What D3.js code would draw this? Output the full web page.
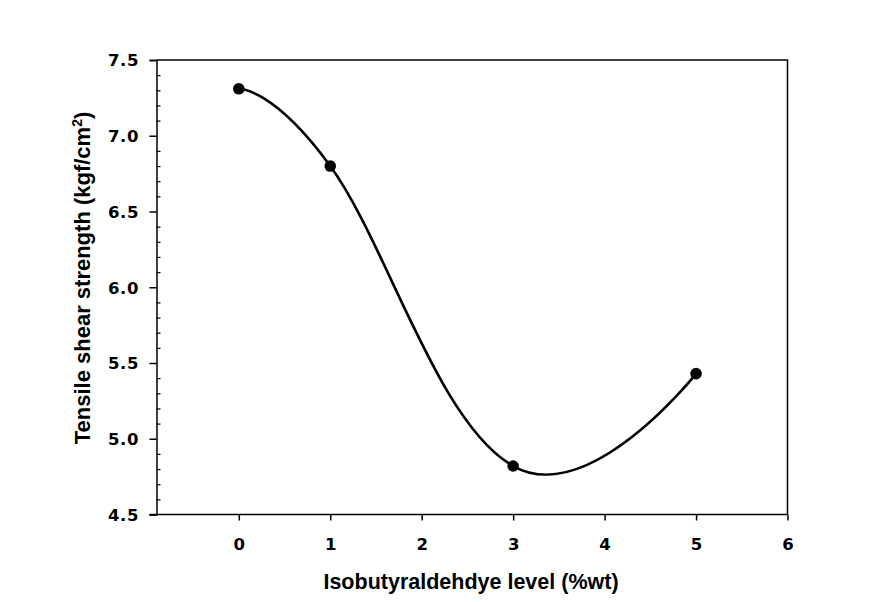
<!DOCTYPE html>
<html>
<head>
<meta charset="utf-8">
<script src="https://cdn.jsdelivr.net/npm/d3@7"></script>
<style>
  body { margin: 0; background: #fff; }
  svg text { font-family: "Liberation Sans", Arial, sans-serif; font-weight: bold; fill: #000; }
  svg .tick text { font-family: "DejaVu Sans", Verdana, sans-serif; }
</style>
</head>
<body>
<div id="chart"></div>
<script>
// data
var levels = [0, 1, 3, 5];
var strength = [7.31, 6.80, 4.82, 5.43];
var xTicks = [0, 1, 2, 3, 4, 5, 6];
var yTicks = [4.5, 5.0, 5.5, 6.0, 6.5, 7.0, 7.5];

var width = 874, height = 602;
var mLeft = 156.5, mRight = 787.5, mTop = 60, mBottom = 514.5;

var svg = d3.select('#chart').append('svg')
  .attr('width', width)
  .attr('height', height);

svg.append('rect').attr('width', width).attr('height', height).attr('fill', '#fff');

var x = d3.scaleLinear().domain([-0.9, 6]).range([mLeft, mRight]);
var y = d3.scaleLinear().domain([4.5, 7.5]).range([mBottom, mTop]);

// frame (top and right)
svg.append('path')
  .attr('d', 'M' + mLeft + ',' + mTop + 'H' + mRight + 'V' + mBottom)
  .attr('fill', 'none')
  .attr('stroke', '#000')
  .attr('stroke-width', 1.5);

// y minor ticks (inside)
var minor = d3.range(45, 76).map(function (d) { return d / 10; })
  .filter(function (d) { return Math.round(d * 10) % 5 !== 0; });
var yMinor = svg.append('g')
  .attr('transform', 'translate(' + mLeft + ',0)')
  .call(d3.axisRight(y).tickValues(minor).tickSize(4).tickFormat(''));
yMinor.select('.domain').remove();
yMinor.selectAll('line').attr('stroke-width', 1.2);

// y axis
var yAxis = svg.append('g')
  .attr('transform', 'translate(' + mLeft + ',0)')
  .call(d3.axisLeft(y).tickValues(yTicks).tickSize(7).tickPadding(10.5)
    .tickFormat(d3.format('.1f')));
yAxis.select('.domain').attr('stroke-width', 1.5);
yAxis.selectAll('line').attr('stroke-width', 1.5);
yAxis.selectAll('text')
  .style('font-size', '16.5px')
  .style('letter-spacing', '0.6px')
  .attr('dy', '0.36em');

// x axis
var xAxis = svg.append('g')
  .attr('transform', 'translate(0,' + mBottom + ')')
  .call(d3.axisBottom(x).tickValues(xTicks).tickSize(6).tickPadding(18)
    .tickFormat(d3.format('d')));
xAxis.select('.domain').attr('stroke-width', 1.5)
  .attr('d', 'M' + (mLeft - 7) + ',0H' + mRight);
xAxis.selectAll('line').attr('stroke-width', 1.5);
xAxis.selectAll('text').style('font-size', '16.5px');

// curve
var line = d3.line()
  .x(function (d) { return x(d[0]); })
  .y(function (d) { return y(d[1]); })
  .curve(d3.curveCardinal.tension(-0.25));

var pts = levels.map(function (d, i) { return [d, strength[i]]; });

svg.append('path')
  .datum(pts)
  .attr('d', line)
  .attr('fill', 'none')
  .attr('stroke', '#000')
  .attr('stroke-width', 2.6);

svg.selectAll('circle.pt')
  .data(pts)
  .enter().append('circle')
  .attr('class', 'pt')
  .attr('cx', function (d) { return x(d[0]); })
  .attr('cy', function (d) { return y(d[1]); })
  .attr('r', 5.8)
  .attr('fill', '#000');

// axis titles
svg.append('text')
  .attr('x', (mLeft + mRight) / 2 - 1)
  .attr('y', 589)
  .attr('text-anchor', 'middle')
  .style('font-size', '21.5px')
  .text('Isobutyraldehdye level (%wt)');

var yt = svg.append('text')
  .attr('transform', 'translate(90,' + 278 + ') rotate(-90)')
  .attr('text-anchor', 'middle')
  .style('font-size', '22px');
yt.append('tspan').text('Tensile shear strength (kgf/cm');
yt.append('tspan').attr('dy', -8).style('font-size', '14px').text('2');
yt.append('tspan').attr('dy', 8).text(')');
</script>
</body>
</html>
